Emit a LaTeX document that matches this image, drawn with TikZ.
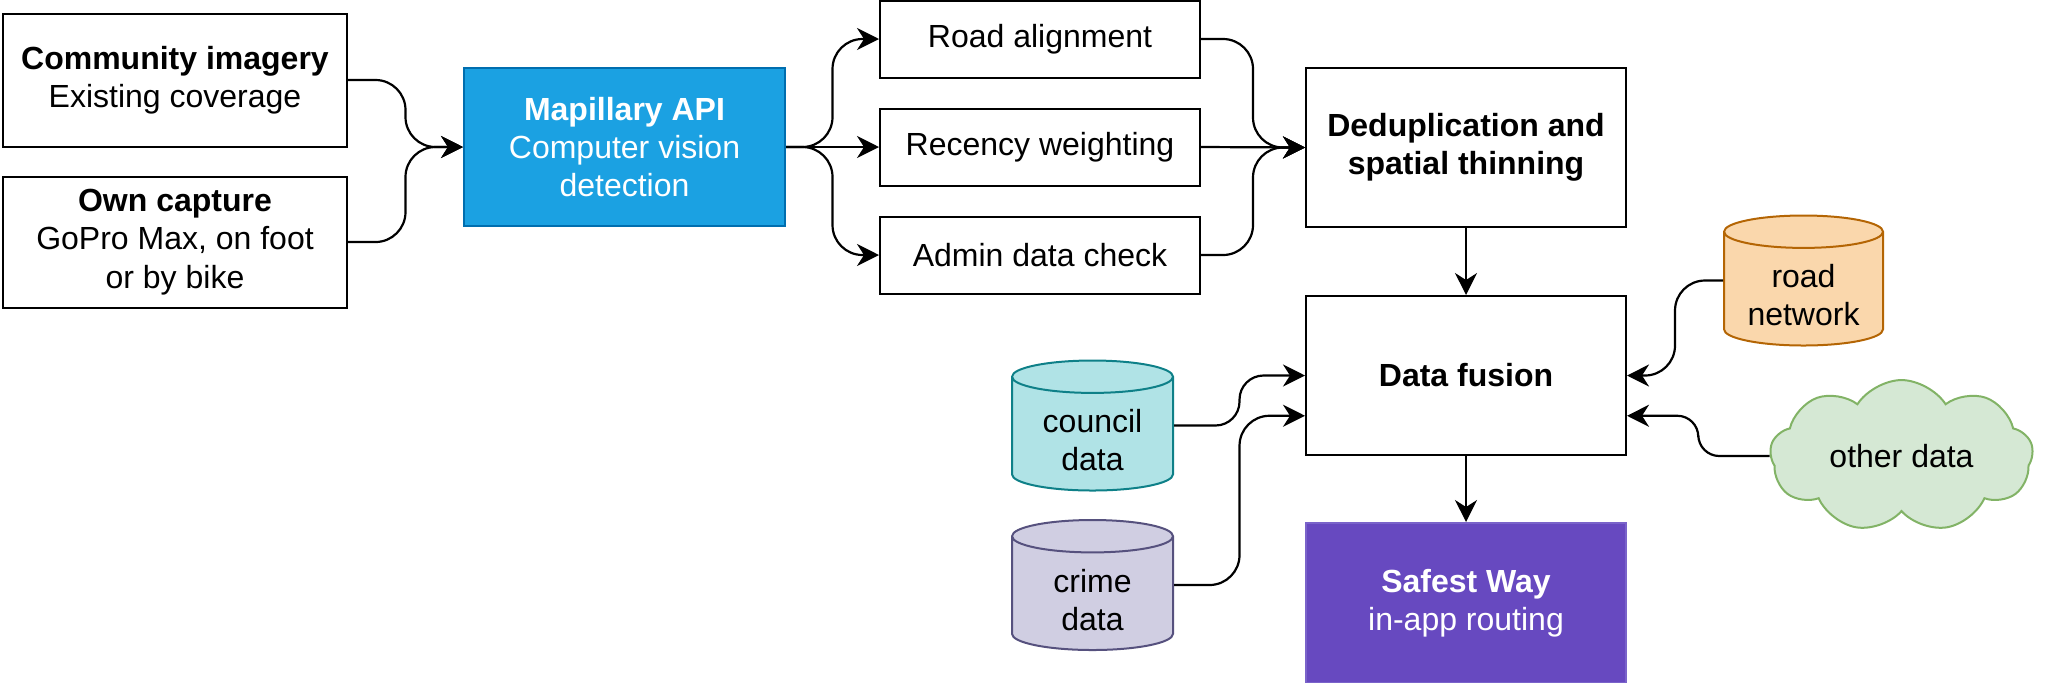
\documentclass[tikz,border=0pt]{standalone}
\usepackage{fontspec}
\setmainfont{Liberation Sans}
\usetikzlibrary{shapes.geometric,shapes.symbols,arrows.meta,positioning,calc}

\definecolor{mapiblue}{HTML}{1BA1E2}
\definecolor{mapiedge}{HTML}{006EAF}
\definecolor{safefill}{HTML}{6749C0}
\definecolor{safeedge}{HTML}{7A63CA}
\definecolor{councilfill}{HTML}{B0E3E6}
\definecolor{counciledge}{HTML}{0E8088}
\definecolor{crimefill}{HTML}{D0CEE2}
\definecolor{crimeedge}{HTML}{56517E}
\definecolor{netfill}{HTML}{FAD7AC}
\definecolor{netedge}{HTML}{B46504}
\definecolor{otherfill}{HTML}{D5E8D4}
\definecolor{otheredge}{HTML}{82B366}

% text of a data store sits below the top cap
\newcommand{\cylbody}[2]{\raisebox{-5pt}[\height][\depth]{\makebox[60pt]{%
  \begin{tabular}{@{}c@{}}#1\\#2\end{tabular}}}}

\begin{document}
\begin{tikzpicture}[x=0.5pt, y=-0.5pt,
  every node/.style={font=\fontsize{16}{19.2}\selectfont},
  box/.style={draw, line width=1pt, align=center, inner sep=2pt,
              minimum width=160pt},
  store/.style={cylinder, shape border rotate=90, draw, line width=1pt,
                aspect=0.27, minimum width=80.5pt, minimum height=65pt,
                inner sep=0pt, anchor=shape center},
  flow/.style={-{Stealth[length=11pt,width=11pt,inset=3.5pt]},
               line width=1.1pt, rounded corners=15pt},
  feed/.style={-{Stealth[length=11pt,width=11pt,inset=3.5pt]},
               line width=0.7pt},
  elbow/.style={to path={let \p1=(\tikztostart), \p2=(\tikztotarget) in
                -- ({0.5*\x1+0.5*\x2},\y1) -- ({0.5*\x1+0.5*\x2},\y2)
                -- (\p2) \tikztonodes}}
]
\useasboundingbox (0,0) rectangle (2048,682);

% capture sources
\node[box, minimum width=172pt, minimum height=66.5pt] (comm) at (175,80)
  {\textbf{Community imagery}\\Existing coverage};
\node[box, minimum width=172pt, minimum height=65.5pt] (own) at (175,242)
  {\textbf{Own capture}\\GoPro Max, on foot\\or by bike};

\node[box, fill=mapiblue, draw=mapiedge, text=white,
      minimum width=160.5pt, minimum height=79pt] (mapi) at (624.5,147)
  {\textbf{Mapillary API}\\Computer vision\\detection};

% filtering
\node[box, minimum height=38.5pt] (recency) at (1040,147) {Recency weighting};
\node[box, minimum height=38.5pt, above=14.5pt of recency] (road)
  {Road alignment};
\node[box, minimum height=38.5pt, below=14.5pt of recency] (admin)
  {Admin data check};

\node[box, minimum height=79.5pt] (dedup) at (1466,147.5)
  {\textbf{Deduplication and}\\\textbf{spatial thinning}};
\node[box, minimum height=79.5pt, below=33.5pt of dedup] (fusion)
  {\textbf{Data fusion}};
\node[box, fill=safefill, draw=safeedge, text=white,
      minimum height=80pt, below=33pt of fusion] (safest)
  {\textbf{Safest Way}\\in-app routing};

% extra data
\node[store, fill=councilfill, draw=counciledge] (council) at (1092.5,425.5)
  {\cylbody{council}{data}};
\node[store, fill=crimefill, draw=crimeedge] (crime) at (1092.5,585)
  {\cylbody{crime}{data}};
\node[store, fill=netfill, draw=netedge, minimum width=79.5pt] (netw)
  at (1803.5,280.5) {\cylbody{road}{network}};
\node[cloud, cloud puffs=9, cloud puff arc=115, aspect=1.9,
      draw=otheredge, fill=otherfill, line width=1pt,
      minimum width=131.5pt, minimum height=69pt] (other) at (1901.5,456)
  {other data};

\coordinate (fusion-lw) at ($(fusion.north west)!0.75!(fusion.south west)$);
\coordinate (fusion-le) at ($(fusion.north east)!0.75!(fusion.south east)$);

\draw[flow] (comm.east) to[elbow] (mapi.west);
\draw[flow] (own.east) to[elbow] (mapi.west);
\draw[flow] (mapi.east) to[elbow] (road.west);
\draw[flow] (mapi.east) -- (recency.west);
\draw[flow] (mapi.east) to[elbow] (admin.west);
\draw[flow] (road.east) to[elbow] (dedup.west);
\draw[flow] (recency.east) -- (dedup.west);
\draw[flow] (admin.east) to[elbow] (dedup.west);
\draw[feed] (dedup) -- (fusion);
\draw[flow, rounded corners=12pt] (council.shape center -| council.east)
  to[elbow] (fusion.west);
\draw[flow] (crime.shape center -| crime.east) to[elbow] (fusion-lw);
\draw[flow] (netw.shape center -| netw.west) to[elbow] (fusion.east);
\draw[flow, rounded corners=10.5pt] (other.west) to[elbow] (fusion-le);
\draw[feed] (fusion) -- (safest);
\end{tikzpicture}
\end{document}
